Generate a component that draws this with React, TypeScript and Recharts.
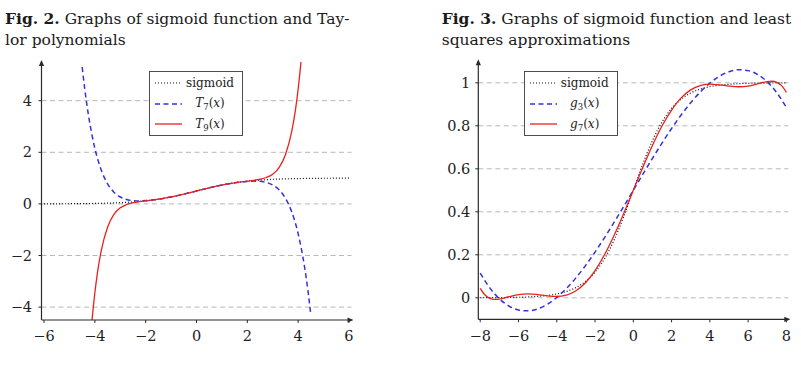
import React from 'react';
import { LineChart, Line, XAxis, YAxis } from 'recharts';

// ---- Fig. 2: sigmoid and its Taylor polynomials ----
const sigmoidX6 = [-6, -5.5, -5, -4.5, -4, -3.5, -3, -2.5, -2, -1.5, -1, -0.5, 0, 0.5, 1, 1.5, 2, 2.5, 3, 3.5, 4, 4.5, 5, 5.5, 6];
const sigmoidY6 = [0.0025, 0.0041, 0.0067, 0.011, 0.018, 0.0293, 0.0474, 0.0759, 0.1192, 0.1824, 0.2689, 0.3775, 0.5, 0.6225, 0.7311, 0.8176, 0.8808, 0.9241, 0.9526, 0.9707, 0.982, 0.989, 0.9933, 0.9959, 0.9975];

const taylor7X = [-4.5, -4.4, -4.25, -4, -3.75, -3.5, -3.25, -3, -2.75, -2.5, -2.25, -2, -1.75, -1.5, -1.25, -1, -0.75, -0.5, -0.25, 0, 0.25, 0.5, 0.75, 1, 1.25, 1.5, 1.75, 2, 2.25, 2.5, 2.75, 3, 3.25, 3.5, 3.75, 4, 4.25, 4.4, 4.5];
const taylor7Y = [5.3065, 4.4697, 3.4279, 2.154, 1.3146, 0.7804, 0.4547, 0.2673, 0.1688, 0.1257, 0.1162, 0.127, 0.1506, 0.1831, 0.2228, 0.269, 0.3208, 0.3775, 0.4378, 0.5, 0.5622, 0.6225, 0.6792, 0.731, 0.7772, 0.8169, 0.8494, 0.873, 0.8838, 0.8743, 0.8312, 0.7327, 0.5453, 0.2196, -0.3146, -1.154, -2.4279, -3.4697, -4.3065];

// T9 runs off the plot at both ends; it is listed up to where it leaves the frame
const taylor9X = [-4.11, -4.1, -4, -3.9, -3.75, -3.5, -3.25, -3, -2.75, -2.5, -2.25, -2, -1.75, -1.5, -1.25, -1, -0.75, -0.5, -0.25, 0, 0.25, 0.5, 0.75, 1, 1.25, 1.5, 1.75, 2, 2.25, 2.5, 2.75, 3, 3.25, 3.5, 3.75, 3.9, 4, 4.1, 4.11];
const taylor9Y = [-4.5, -4.389, -3.4446, -2.6836, -1.8174, -0.9029, -0.4093, -0.1531, -0.0233, 0.0443, 0.0846, 0.116, 0.1473, 0.1823, 0.2227, 0.2689, 0.3208, 0.3775, 0.4378, 0.5, 0.5622, 0.6225, 0.6792, 0.7311, 0.7773, 0.8177, 0.8527, 0.884, 0.9154, 0.9557, 1.0233, 1.1531, 1.4093, 1.9029, 2.8174, 3.6836, 4.4446, 5.389, 5.5];

const fig2XTicks = [-6, -4, -2, 0, 2, 4, 6];
const fig2YTicks = [-4, -2, 0, 2, 4];
const fig2XDomain = [-6.1, 6.1];
const fig2YDomain = [-4.5, 5.5];

// ---- Fig. 3: sigmoid and least squares approximations ----
const sigmoidX8 = [-8, -7.5, -7, -6.5, -6, -5.5, -5, -4.5, -4, -3.5, -3, -2.5, -2, -1.5, -1, -0.5, 0, 0.5, 1, 1.5, 2, 2.5, 3, 3.5, 4, 4.5, 5, 5.5, 6, 6.5, 7, 7.5, 8];
const sigmoidY8 = [0.0003, 0.0006, 0.0009, 0.0015, 0.0025, 0.0041, 0.0067, 0.011, 0.018, 0.0293, 0.0474, 0.0759, 0.1192, 0.1824, 0.2689, 0.3775, 0.5, 0.6225, 0.7311, 0.8176, 0.8808, 0.9241, 0.9526, 0.9707, 0.982, 0.989, 0.9933, 0.9959, 0.9975, 0.9985, 0.9991, 0.9994, 0.9997];
const g3Y = [0.1147, 0.0461, -0.0044, -0.0383, -0.0566, -0.0606, -0.0515, -0.0304, 0.0015, 0.0429, 0.0927, 0.1496, 0.2125, 0.2802, 0.3515, 0.4251, 0.5, 0.5749, 0.6485, 0.7198, 0.7875, 0.8504, 0.9073, 0.9571, 0.9985, 1.0304, 1.0515, 1.0606, 1.0566, 1.0383, 1.0044, 0.9539, 0.8853];

const g7X = [-8, -7.75, -7.5, -7.25, -7, -6.5, -6, -5.5, -5, -4.5, -4, -3.5, -3, -2.5, -2, -1.5, -1, -0.5, 0, 0.5, 1, 1.5, 2, 2.5, 3, 3.5, 4, 4.5, 5, 5.5, 6, 6.5, 7, 7.25, 7.5, 7.75, 8];
const g7Y = [0.0443, 0.0133, -0.0023, -0.0073, -0.0059, 0.005, 0.0151, 0.0184, 0.0152, 0.0094, 0.0066, 0.0127, 0.0328, 0.0703, 0.1266, 0.2011, 0.2912, 0.3926, 0.5, 0.6074, 0.7088, 0.7989, 0.8734, 0.9297, 0.9672, 0.9873, 0.9934, 0.9906, 0.9848, 0.9816, 0.9849, 0.995, 1.0059, 1.0073, 1.0023, 0.9867, 0.9557];

const fig3XTicks = [-8, -6, -4, -2, 0, 2, 4, 6, 8];
const fig3YTicks = [0, 0.2, 0.4, 0.6, 0.8, 1];
const fig3XDomain = [-8.1, 8.1];
const fig3YDomain = [-0.1, 1.1];

const toPoints = (xs: number[], ys: number[]) => xs.map((x, i) => ({ x, y: ys[i] }));

const SERIF = 'DejaVu Serif';
const AXIS = '#2a2a2a';
const GRID = '#b8b8b8';
const BLUE = '#3232e0';
const RED = '#e8211f';
const DOTTED = '1 2';
const DASHED = '5 3.5';

const fmt = (v: number) => String(v).replace('-', '\u2212');

const tickStyle = { fill: '#222', fontSize: 14.5, fontFamily: SERIF };

type Entry = { label: React.ReactNode; color: string; dash?: string; width: number };

const Sub = ({ children }: { children: React.ReactNode }) => (
  <span style={{ fontSize: 8.5, position: 'relative', top: 3 }}>{children}</span>
);

function LegendBox({ entries, left, top }: { entries: Entry[]; left: number; top: number }) {
  return (
    <div
      style={{
        position: 'absolute',
        left,
        top,
        width: 94,
        height: 65,
        boxSizing: 'border-box',
        border: '1.3px solid #4d4d4d',
        background: '#fff',
        paddingTop: 1,
        fontFamily: SERIF,
        fontSize: 12,
        color: '#222',
      }}
    >
      {entries.map((e, i) => (
        <div key={i} style={{ display: 'flex', alignItems: 'center', height: 20.5 }}>
          <svg width={36} height={10} style={{ flex: 'none', display: 'block' }}>
            <path d="M5,5 H32" stroke={e.color} strokeWidth={e.width} strokeDasharray={e.dash} fill="none" />
          </svg>
          <div style={{ flex: 1, textAlign: 'center', paddingRight: 8, lineHeight: '14px', whiteSpace: 'nowrap' }}>
            {e.label}
          </div>
        </div>
      ))}
    </div>
  );
}

// arrowheads drawn as the dot of a one-point series placed at the axis end
const ArrowRight = (p: any) => (
  <path key={`ar-${p.index}`} d={`M${p.cx + 2},${p.cy} L${p.cx - 4},${p.cy - 2.6} L${p.cx - 4},${p.cy + 2.6} Z`} fill={AXIS} />
);
const ArrowUp = (p: any) => (
  <path key={`au-${p.index}`} d={`M${p.cx},${p.cy - 2} L${p.cx - 2.6},${p.cy + 4} L${p.cx + 2.6},${p.cy + 4} Z`} fill={AXIS} />
);

const fig2Legend: Entry[] = [
  { label: 'sigmoid', color: '#111', dash: DOTTED, width: 1.2 },
  { label: <span><i>T</i><Sub>7</Sub>(<i>x</i>)</span>, color: BLUE, dash: DASHED, width: 1.5 },
  { label: <span><i>T</i><Sub>9</Sub>(<i>x</i>)</span>, color: RED, width: 1.3 },
];

const fig3Legend: Entry[] = [
  { label: 'sigmoid', color: '#111', dash: DOTTED, width: 1.2 },
  { label: <span><i>g</i><Sub>3</Sub>(<i>x</i>)</span>, color: BLUE, dash: DASHED, width: 1.5 },
  { label: <span><i>g</i><Sub>7</Sub>(<i>x</i>)</span>, color: RED, width: 1.3 },
];

const titleStyle: React.CSSProperties = {
  position: 'absolute',
  top: 8,
  fontFamily: SERIF,
  fontSize: 15.5,
  lineHeight: '21px',
  whiteSpace: 'pre',
  color: '#1a1a1a',
};

// horizontal dashed grid lines at each y tick, spanning the x domain
function gridLines(yTicks: number[], xDomain: number[]) {
  return yTicks.map((v) => (
    <Line
      key={`grid-${v}`}
      data={[{ x: xDomain[0], y: v }, { x: xDomain[1], y: v }]}
      dataKey="y"
      type="linear"
      stroke={GRID}
      strokeWidth={1}
      strokeDasharray={DASHED}
      dot={false}
      activeDot={false}
      isAnimationActive={false}
    />
  ));
}

function arrowHeads(xDomain: number[], yDomain: number[]) {
  return [
    <Line key="arrow-x" data={[{ x: xDomain[1], y: yDomain[0] }]} dataKey="y" stroke="none" dot={ArrowRight} activeDot={false} isAnimationActive={false} />,
    <Line key="arrow-y" data={[{ x: xDomain[0], y: yDomain[1] }]} dataKey="y" stroke="none" dot={ArrowUp} activeDot={false} isAnimationActive={false} />,
  ];
}

export default function App() {
  return (
    <div style={{ position: 'absolute', left: 0, top: 0, width: 801, height: 366, background: '#fff' }}>
      <div style={{ ...titleStyle, left: 5 }}>
        <b>Fig. 2.</b> Graphs of sigmoid function and Tay-{'\n'}lor polynomials
      </div>
      <div style={{ ...titleStyle, left: 441.7 }}>
        <b>Fig. 3.</b> Graphs of sigmoid function and least{'\n'}squares approximations
      </div>

      <div style={{ position: 'absolute', left: 0, top: 0 }}>
        <LineChart width={360} height={366} margin={{ top: 62, right: 8.5, bottom: 16, left: 0 }}>
          <XAxis
            type="number"
            dataKey="x"
            domain={fig2XDomain}
            ticks={fig2XTicks}
            height={30}
            tickFormatter={fmt}
            tick={tickStyle}
            tickSize={3}
            tickMargin={8}
            axisLine={{ stroke: AXIS, strokeWidth: 1.2 }}
            tickLine={{ stroke: AXIS }}
          />
          <YAxis
            type="number"
            domain={fig2YDomain}
            ticks={fig2YTicks}
            width={41.5}
            tickFormatter={fmt}
            tick={tickStyle}
            tickSize={3}
            tickMargin={6.5}
            axisLine={{ stroke: AXIS, strokeWidth: 1.2 }}
            tickLine={{ stroke: AXIS }}
          />
          {gridLines(fig2YTicks, fig2XDomain)}
          <Line data={toPoints(sigmoidX6, sigmoidY6)} dataKey="y" type="monotone" stroke="#111" strokeWidth={1.2} strokeDasharray={DOTTED} dot={false} isAnimationActive={false} />
          <Line data={toPoints(taylor7X, taylor7Y)} dataKey="y" type="monotone" stroke={BLUE} strokeWidth={1.5} strokeDasharray={DASHED} dot={false} isAnimationActive={false} />
          <Line data={toPoints(taylor9X, taylor9Y)} dataKey="y" type="monotone" stroke={RED} strokeWidth={1.3} dot={false} isAnimationActive={false} />
          {arrowHeads(fig2XDomain, fig2YDomain)}
        </LineChart>
      </div>

      <div style={{ position: 'absolute', left: 420, top: 0 }}>
        <LineChart width={381} height={366} margin={{ top: 61.3, right: 12.7, bottom: 16.7, left: 0 }}>
          <XAxis
            type="number"
            dataKey="x"
            domain={fig3XDomain}
            ticks={fig3XTicks}
            height={30}
            tickFormatter={fmt}
            tick={tickStyle}
            tickSize={3}
            tickMargin={8}
            axisLine={{ stroke: AXIS, strokeWidth: 1.2 }}
            tickLine={{ stroke: AXIS }}
          />
          <YAxis
            type="number"
            domain={fig3YDomain}
            ticks={fig3YTicks}
            width={58.3}
            tickFormatter={fmt}
            tick={tickStyle}
            tickSize={3}
            tickMargin={5}
            axisLine={{ stroke: AXIS, strokeWidth: 1.2 }}
            tickLine={{ stroke: AXIS }}
          />
          {gridLines(fig3YTicks, fig3XDomain)}
          <Line data={toPoints(sigmoidX8, sigmoidY8)} dataKey="y" type="monotone" stroke="#111" strokeWidth={1.2} strokeDasharray={DOTTED} dot={false} isAnimationActive={false} />
          <Line data={toPoints(sigmoidX8, g3Y)} dataKey="y" type="monotone" stroke={BLUE} strokeWidth={1.5} strokeDasharray={DASHED} dot={false} isAnimationActive={false} />
          <Line data={toPoints(g7X, g7Y)} dataKey="y" type="monotone" stroke={RED} strokeWidth={1.3} dot={false} isAnimationActive={false} />
          {arrowHeads(fig3XDomain, fig3YDomain)}
        </LineChart>
      </div>

      <LegendBox entries={fig2Legend} left={149} top={71} />
      <LegendBox entries={fig3Legend} left={523.7} top={71} />
    </div>
  );
}
